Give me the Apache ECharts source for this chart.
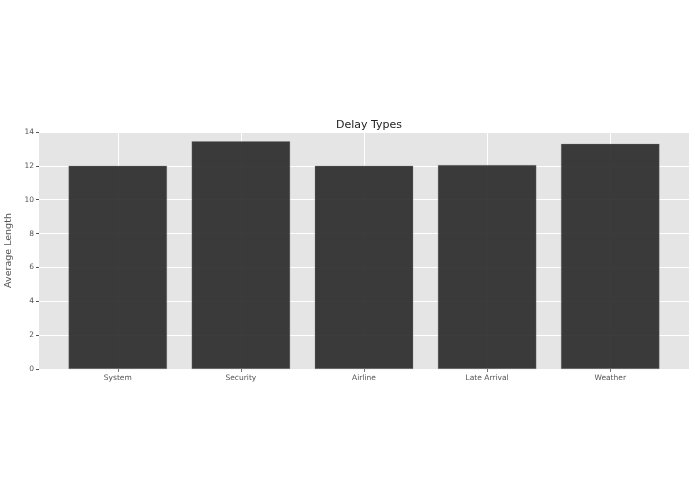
<!DOCTYPE html>
<html>
<head>
<meta charset="utf-8">
<script src="https://cdn.jsdelivr.net/npm/echarts@6/dist/echarts.min.js"></script>
<style>
html,body{margin:0;padding:0;background:#fff;}
#chart{width:695px;height:494px;}
</style>
</head>
<body>
<div id="chart"></div>
<script>
const categories = ['System', 'Security', 'Airline', 'Late Arrival', 'Weather'];
const values = [12.0, 13.45, 12.0, 12.05, 13.3];
const yTicks = [0, 2, 4, 6, 8, 10, 12, 14];

const chart = echarts.init(document.getElementById('chart'));
const gridLeft = 39, gridRight = 6;
const plotW = 695 - gridLeft - gridRight;
const xMin = -0.64, xMax = categories.length - 1 + 0.64;
const barW = plotW / (xMax - xMin) * 0.8;
const font = 'DejaVu Sans';

chart.setOption({
  animation: false,
  title: {
    text: 'Delay Types',
    left: gridLeft + plotW / 2,
    textAlign: 'center',
    top: 115,
    textStyle: {fontFamily: font, fontSize: 11, fontWeight: 'normal', color: '#222'}
  },
  grid: {
    left: gridLeft, right: gridRight, top: 132, bottom: 125,
    outerBoundsMode: 'none', containLabel: false,
    show: true, backgroundColor: '#E5E5E5', borderWidth: 0
  },
  xAxis: {
    type: 'value',
    min: xMin, max: xMax,
    axisLine: {show: false, onZero: false},
    axisTick: {show: true, customValues: [0, 1, 2, 3, 4], length: 3, lineStyle: {color: '#777'}},
    axisLabel: {
      customValues: [0, 1, 2, 3, 4],
      formatter: v => categories[Math.round(v)],
      fontFamily: font, fontSize: 7.5, color: '#555', margin: 5
    },
    splitLine: {show: true, lineStyle: {color: '#fff', width: 1}}
  },
  yAxis: {
    type: 'value',
    min: 0, max: 14, interval: 2,
    name: 'Average Length',
    nameLocation: 'middle',
    nameGap: 20,
    nameTextStyle: {fontFamily: font, fontSize: 9.5, color: '#555'},
    axisLine: {show: false, onZero: false},
    axisTick: {show: true, length: 3, lineStyle: {color: '#555'}},
    axisLabel: {
      fontFamily: font, fontSize: 7.5, color: '#555', margin: 5,
      formatter: v => yTicks.includes(v) ? String(v) : ''
    },
    splitLine: {show: true, lineStyle: {color: '#fff', width: 1}}
  },
  series: [{
    type: 'bar',
    data: values.map((v, i) => [i, v]),
    barWidth: barW,
    itemStyle: {color: 'rgba(45,45,45,0.93)', borderColor: 'rgba(120,120,120,0.6)', borderWidth: 0.5},
    z: 2
  }]
});
</script>
</body>
</html>
